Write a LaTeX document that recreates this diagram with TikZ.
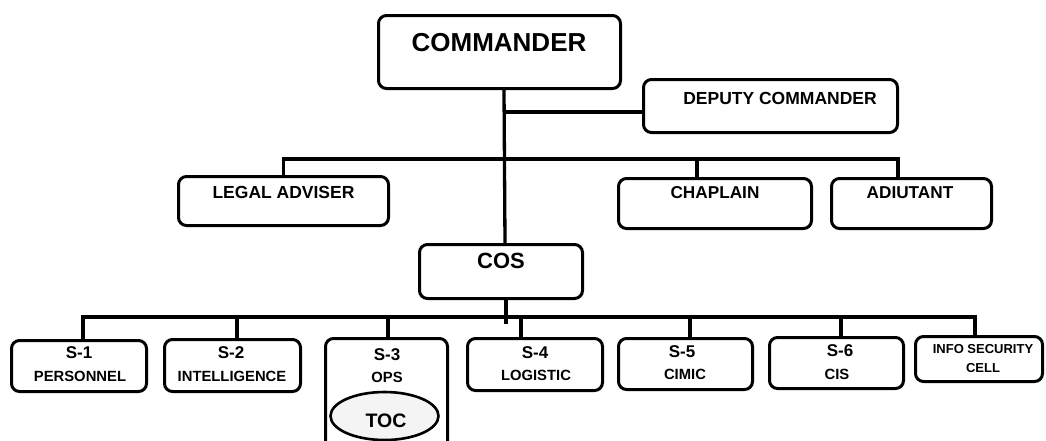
\documentclass[tikz,border=0pt]{standalone}
\usepackage{fontspec}
\setmainfont{Liberation Sans}
\usetikzlibrary{shapes.geometric}
\newcommand\lblfont[1]{\fontsize{#1}{#1}\selectfont\bfseries}
\tikzset{
  orgbox/.style={draw, line width=3pt, rounded corners=8pt, rectangle, inner sep=0pt},
  wire/.style={line width=3.3pt},
  lbl/.style={inner sep=0pt, anchor=center},
}
% place an org box by centre and outer size
\newcommand\orgbox[5]{\node[orgbox, minimum width=#4pt-3pt, minimum height=#5pt-3pt] (#1) at (#2,#3) {};}
\begin{document}
\begin{tikzpicture}[x=1pt,y=-1pt]
\useasboundingbox (0,0) rectangle (1046,440);

% ---- boxes ----
\orgbox{cmd}{499.5}{52}{245}{76}
\orgbox{dep}{770.5}{106}{257}{56}
\orgbox{legal}{283.5}{201}{213}{52}
\orgbox{chap}{715}{203.5}{196}{53}
\orgbox{adj}{911.5}{203.5}{163}{53}
\orgbox{cos}{501}{271.5}{166}{57}
\orgbox{s1}{79}{366}{138}{54}
\orgbox{s2}{232.5}{365.5}{139}{55}
\orgbox{s3}{386.5}{394}{125}{114}
\orgbox{s4}{535}{364.5}{138}{55}
\orgbox{s5}{685.5}{364}{137}{54}
\orgbox{s6}{836.5}{363}{137}{54}
\orgbox{info}{979}{359}{130}{48}
\node[draw, line width=2.6pt, ellipse, fill=gray!9, minimum width=108pt, minimum height=48pt, inner sep=0pt] (toc) at (384.5,416) {};

% ---- texts ----
\node[lbl] (cmdT) at (499,43) {\lblfont{26}COMMANDER};
\node[lbl] (depT) at (780,98) {\lblfont{17.5}DEPUTY COMMANDER};
\node[lbl] (legalT) at (283.5,192) {\lblfont{17.5}LEGAL ADVISER};
\node[lbl] (chapT) at (715,193) {\lblfont{17.2}CHAPLAIN};
\node[lbl] (adjT) at (910,193) {\lblfont{17.2}ADIUTANT};
\node[lbl] (cosT) at (501,261) {\lblfont{22}COS};

\node[lbl] (s1a) at (79,353) {\lblfont{17}S-1};
\node[lbl] (s1b) at (80,376) {\lblfont{14.8}PERSONNEL};
\node[lbl] (s2a) at (231,353) {\lblfont{17}S-2};
\node[lbl] (s2b) at (232,376) {\lblfont{14.8}INTELLIGENCE};
\node[lbl] (s3a) at (387,355) {\lblfont{17}S-3};
\node[lbl] (s3b) at (387,377) {\lblfont{14.8}OPS};
\node[lbl] (tocT) at (386,421) {\lblfont{19.5}TOC};
\node[lbl] (s4a) at (535,353) {\lblfont{17}S-4};
\node[lbl] (s4b) at (536,375) {\lblfont{14.8}LOGISTIC};
\node[lbl] (s5a) at (682,352) {\lblfont{17}S-5};
\node[lbl] (s5b) at (685,374) {\lblfont{14.8}CIMIC};
\node[lbl] (s6a) at (840,351) {\lblfont{17}S-6};
\node[lbl] (s6b) at (837,374) {\lblfont{14.8}CIS};
\node[lbl] (infoa) at (983,349) {\lblfont{13}INFO SECURITY};
\node[lbl] (infob) at (983,368) {\lblfont{13}CELL};

% ---- connectors ----
\coordinate (busD) at (504,112);
\coordinate (busA) at (0,159);
\coordinate (busB) at (0,317);
\coordinate (cosStub) at (506,324);

% main trunk commander -> COS
\draw[wire] ([xshift=4.5pt]cmd.south) -- ([xshift=4pt]cos.north);
% deputy branch
\draw[wire] (busD) -- (busD -| dep.west);
% advisers bus
\draw[wire] (legal.north) -- (legal.north |- busA) -- ([xshift=-13.5pt]adj.north |- busA) -- ([xshift=-13.5pt]adj.north);
\draw[wire] ([xshift=-18pt]chap.north) -- ([xshift=-18pt]chap.north |- busA);
% staff bus
\draw[wire] ([xshift=5pt]cos.south) -- (cosStub);
\draw[wire] ([xshift=4pt]s1.north) -- ([xshift=4pt]s1.north |- busB) -- ([xshift=-4pt]info.north |- busB) -- ([xshift=-4pt]info.north);
\draw[wire] ([xshift=4.5pt]s2.north) -- ([xshift=4.5pt]s2.north |- busB);
\draw[wire] ([xshift=1.5pt]s3.north) -- ([xshift=1.5pt]s3.north |- busB);
\draw[wire] ([xshift=-14pt]s4.north) -- ([xshift=-14pt]s4.north |- busB);
\draw[wire] ([xshift=4.5pt]s5.north) -- ([xshift=4.5pt]s5.north |- busB);
\draw[wire] ([xshift=4.5pt]s6.north) -- ([xshift=4.5pt]s6.north |- busB);
\end{tikzpicture}
\end{document}
